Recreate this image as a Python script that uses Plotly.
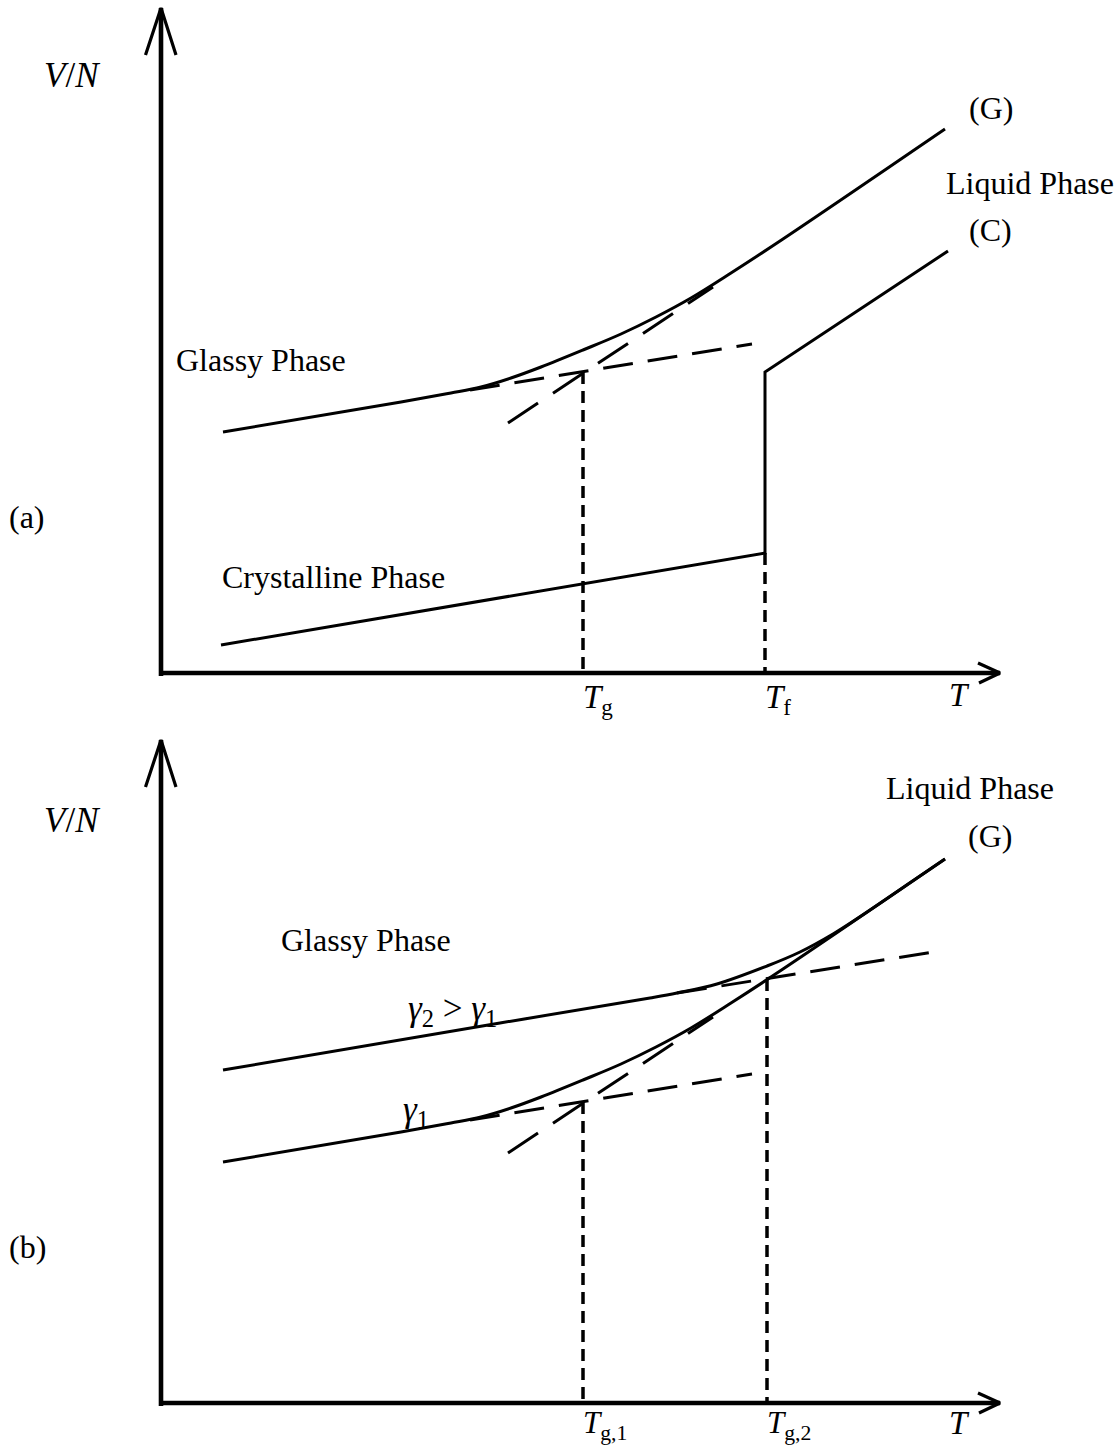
import plotly.graph_objects as go

# ---------------- Panel (a): glass former vs. crystal ----------------
# Cooling curve of the glass former (G): glassy branch -> liquid branch
g_T = [0.62, 2.40, 2.90, 3.20, 3.50, 3.80, 4.22, 4.60, 4.95, 5.30, 5.70, 6.22, 7.84]
g_V = [2.41, 2.71, 2.80, 2.86, 2.95, 3.06, 3.23, 3.39, 3.56, 3.75, 4.00, 4.34, 5.44]
# Crystal (C): solid branch, jump at T_f, liquid branch
c_T = [0.60, 6.04, 6.04, 7.87]
c_V = [0.28, 1.20, 3.01, 4.22]
# Tangent extrapolations (dashed)
a_glass_ext_T = [3.09, 5.91]
a_glass_ext_V = [2.83, 3.29]
a_liq_ext_T = [3.47, 5.52]
a_liq_ext_V = [2.50, 3.86]
# Characteristic temperatures
T_g, V_g = 4.22, 3.01
T_f, V_f = 6.04, 1.20

# ---------------- Panel (b): two cooling rates ----------------
g1_T = [0.62, 2.40, 2.90, 3.20, 3.50, 3.80, 4.22, 4.60, 4.95, 5.30, 5.70, 6.22, 7.84]
g1_V = [2.41, 2.71, 2.80, 2.86, 2.95, 3.06, 3.23, 3.39, 3.56, 3.75, 4.00, 4.34, 5.44]
g2_T = [0.62, 3.39, 4.89, 5.16, 5.56, 6.06, 6.39, 6.72, 7.00, 7.56, 7.84]
g2_V = [3.33, 3.80, 4.05, 4.10, 4.19, 4.37, 4.51, 4.69, 4.87, 5.25, 5.44]
b1_glass_ext_T = [3.09, 5.91]
b1_glass_ext_V = [2.83, 3.29]
b1_liq_ext_T = [3.47, 5.52]
b1_liq_ext_V = [2.50, 3.86]
b2_glass_ext_T = [5.16, 7.72]
b2_glass_ext_V = [4.10, 4.51]
T_g1, V_g1 = 4.22, 3.01
T_g2, V_g2 = 6.06, 4.24

# Coordinate frame of each panel (arrowed axes)
axis_a = dict(x_end=8.39, y_end=6.65)
axis_b = dict(x_end=8.39, y_end=6.63)

FONT = "Liberation Serif"
BLACK = "black"

fig = go.Figure()


def line(xs, ys, panel, width=3.0, dash=None, shape="linear"):
    xa, ya = ("x", "y") if panel == "a" else ("x2", "y2")
    fig.add_trace(go.Scatter(
        x=xs, y=ys, mode="lines", xaxis=xa, yaxis=ya,
        line=dict(color=BLACK, width=width, dash=dash, shape=shape,
                  smoothing=1.0),
        hoverinfo="skip", showlegend=False))


def axes(panel, ax):
    xe, ye = ax["x_end"], ax["y_end"]
    line([0, 0], [-0.03, ye], panel, width=4.6)
    line([-0.02, xe], [0, 0], panel, width=4.6)
    # arrow heads (open chevrons)
    line([-0.155, 0, 0.15], [ye - 0.47, ye, ye - 0.47], panel, width=3.2)
    line([xe - 0.22, xe, xe - 0.21], [0.10, 0, -0.10], panel, width=3.2)


LONG_DASH = "30px,15px"
STEEP_DASH = "36px,18px"
DOTTED = "12px,7px"

# ---- panel (a)
axes("a", axis_a)
line(g_T, g_V, "a", shape="spline")
line(c_T, c_V, "a")
line(a_glass_ext_T, a_glass_ext_V, "a", dash=LONG_DASH)
line(a_liq_ext_T, a_liq_ext_V, "a", dash=STEEP_DASH)
line([T_g, T_g], [V_g, 0], "a", width=3.5, dash=DOTTED)
line([T_f, T_f], [V_f, 0], "a", width=3.5, dash=DOTTED)

# ---- panel (b)
axes("b", axis_b)
line(g1_T, g1_V, "b", shape="spline")
line(g2_T, g2_V, "b", shape="spline")
line(b1_glass_ext_T, b1_glass_ext_V, "b", dash=LONG_DASH)
line(b1_liq_ext_T, b1_liq_ext_V, "b", dash=STEEP_DASH)
line(b2_glass_ext_T, b2_glass_ext_V, "b", dash=LONG_DASH)
line([T_g1, T_g1], [V_g1, 0], "b", width=3.5, dash=DOTTED)
line([T_g2, T_g2], [V_g2, 0], "b", width=3.5, dash=DOTTED)

annotations = []


def label(text, x, y, panel, size=32, xanchor="center"):
    xa, ya = ("x", "y") if panel == "a" else ("x2", "y2")
    annotations.append(dict(
        text=text, x=x, y=y, xref=xa, yref=ya, showarrow=False,
        xanchor=xanchor, yanchor="middle",
        font=dict(family=FONT, size=size, color=BLACK)))


VN = "<i>V</i>/<i>N</i>"

# labels of panel (a)
label(VN, -0.89, 5.98, "a", size=35)
label("(G)", 8.30, 5.65, "a")
label("Liquid Phase", 8.69, 4.90, "a")
label("(C)", 8.29, 4.43, "a")
label("Glassy Phase", 1.00, 3.13, "a")
label("(a)", -1.34, 1.56, "a")
label("Crystalline Phase", 1.72, 0.96, "a")
label("<i>T</i><sub>g</sub>", T_g - 0.02, -0.26, "a", size=33, xanchor="left")
label("<i>T</i><sub>f</sub>", T_f - 0.02, -0.26, "a", size=33, xanchor="left")
label("<i>T</i>", 7.98, -0.22, "a", size=33)

# labels of panel (b)
label(VN, -0.89, 5.83, "b", size=35)
label("Liquid Phase", 8.09, 6.15, "b")
label("(G)", 8.29, 5.67, "b")
label("Glassy Phase", 2.05, 4.63, "b")
label("<i>γ</i><sub>2</sub> &gt; <i>γ</i><sub>1</sub>", 2.91, 3.93, "b", size=35)
label("<i>γ</i><sub>1</sub>", 2.55, 2.92, "b", size=35)
label("(b)", -1.34, 1.56, "b")
label("<i>T</i><sub>g,1</sub>", T_g1 - 0.02, -0.215, "b", size=31, xanchor="left")
label("<i>T</i><sub>g,2</sub>", T_g2 - 0.02, -0.215, "b", size=31, xanchor="left")
label("<i>T</i>", 7.98, -0.20, "b", size=33)

hidden = dict(visible=False, fixedrange=True)
fig.update_layout(
    width=1118, height=1445,
    margin=dict(l=0, r=0, t=0, b=0),
    paper_bgcolor="white", plot_bgcolor="white",
    xaxis=dict(domain=[0, 1], range=[-1.61, 9.57], anchor="y", **hidden),
    yaxis=dict(domain=[0.5, 1], range=[-0.495, 6.73], anchor="x", **hidden),
    xaxis2=dict(domain=[0, 1], range=[-1.61, 9.57], anchor="y2", **hidden),
    yaxis2=dict(domain=[0, 0.5], range=[-0.42, 6.805], anchor="x2", **hidden),
    annotations=annotations,
    showlegend=False,
)

fig.write_html("out.html")
